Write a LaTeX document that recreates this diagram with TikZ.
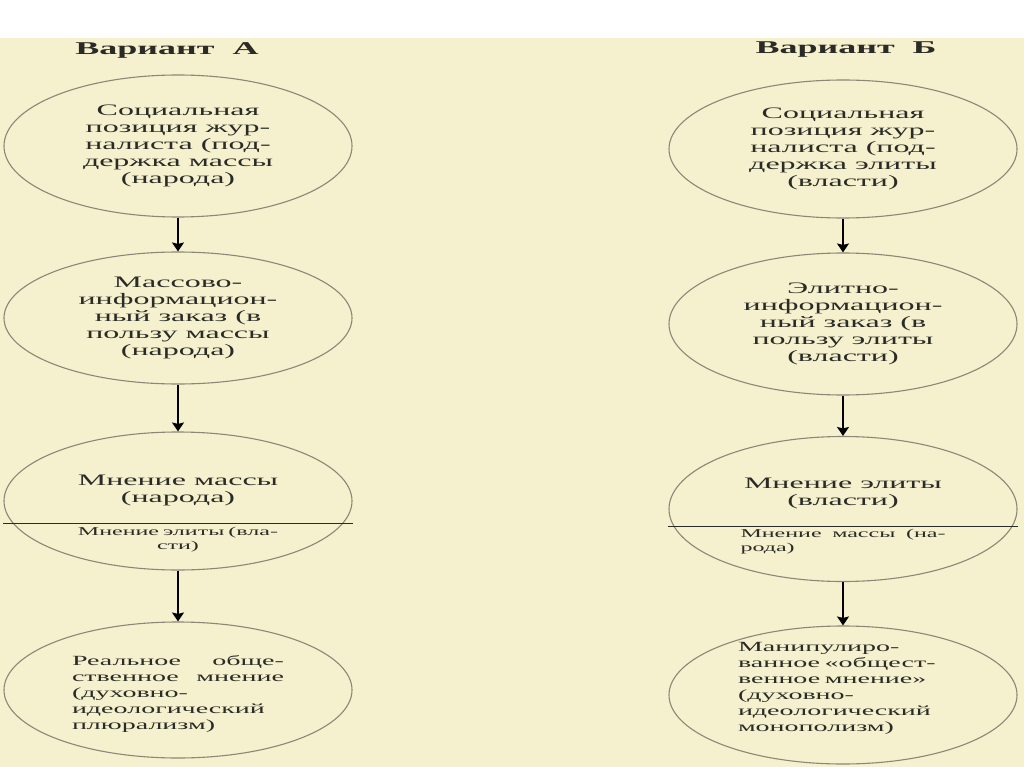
\documentclass[tikz,border=0pt]{standalone}
\usepackage{fontspec}
\setmainfont[FakeStretch=2]{Liberation Serif}
\usetikzlibrary{shapes.geometric, arrows.meta}
\definecolor{paper}{RGB}{245,240,205}
\definecolor{rim}{RGB}{140,135,118}
\definecolor{ink}{RGB}{42,42,38}

\begin{document}
\begin{tikzpicture}[
    x=1pt, y=-1pt,
    oval/.style={ellipse, draw=rim, line width=1.1pt, minimum width=348pt, minimum height=138pt, inner sep=0pt},
    body/.style={font=\fontsize{16}{17}\selectfont, text=ink, align=center},
    small/.style={font=\fontsize{12}{14}\selectfont, text=ink, text width=205pt},
    note/.style={font=\fontsize{14}{16}\selectfont, text=ink, text width=212pt, align=left},
    title/.style={font=\bfseries\fontsize{18}{20}\selectfont, text=ink},
    flow/.style={-{Stealth[length=9pt, width=12pt, inset=1.5pt]}, line width=1.4pt}
]
    % page
    \fill[white] (0,0) rectangle (1024,767);
    \fill[paper] (0,38) rectangle (1024,767);
    \useasboundingbox (0,0) rectangle (1024,767);

    % Variant A
    \node[title] (ta) at (167, 50) {Вариант\ \ А};
    \node[oval, body, minimum height=142pt] (a1) at (178, 146) {Социальная\\ позиция жур-\\ налиста (под-\\ держка массы\\ (народа)};
    \node[oval, body, minimum height=132pt] (a2) at (178, 318) {Массово-\\ информацион-\\ ный заказ (в\\ пользу массы\\ (народа)};
    \node[oval] (a3) at (178, 501) {};
    \node[body] (a3up) at ([yshift=11pt]a3.center) {Мнение массы\\ (народа)};
    \node[small, align=center] (a3low) at ([yshift=-39pt]a3.center) {Мнение элиты (вла-\\ сти)};
    \draw[line width=1pt, ink] ([yshift=-22pt]a3.west) -- ([yshift=-22pt]a3.east);
    \node[oval, minimum height=136pt] (a4) at (178, 690) {};
    \node[note] (a4txt) at ([yshift=-4pt]a4.center) {Реальное\hfill обще-\\ ственное\hfill мнение\\ (духовно-\\ идеологический\\ плюрализм)};

    \draw[flow] (a1) -- (a2);
    \draw[flow] (a2) -- (a3);
    \draw[flow] (a3) -- (a4);

    % Variant B
    \node[title] (tb) at (846, 50) {Вариант\ \ Б};
    \node[oval, body] (b1) at (843, 149) {Социальная\\ позиция жур-\\ налиста (под-\\ держка элиты\\ (власти)};
    \node[oval, body, minimum height=142pt] (b2) at (843, 324) {Элитно-\\ информацион-\\ ный заказ (в\\ пользу элиты\\ (власти)};
    \node[oval, minimum height=145pt] (b3) at (843, 509) {};
    \node[body] (b3up) at ([yshift=16pt]b3.center) {Мнение элиты\\ (власти)};
    \node[small, align=left] (b3low) at ([yshift=-33pt]b3.center) {Мнение\hfill массы\hfill (на-\\ рода)};
    \draw[line width=1pt, ink] ([yshift=-17pt]b3.west) -- ([yshift=-17pt]b3.east);
    \node[oval] (b4) at (843, 695) {};
    \node[note, text width=210pt] (b4txt) at ([yshift=7pt]b4.center) {Манипулиро-\\ ванное «общест-\\ венное мнение»\\ (духовно-\\ идеологический\\ монополизм)};

    \draw[flow] (b1) -- (b2);
    \draw[flow] (b2) -- (b3);
    \draw[flow] (b3) -- (b4);

\end{tikzpicture}
\end{document}
